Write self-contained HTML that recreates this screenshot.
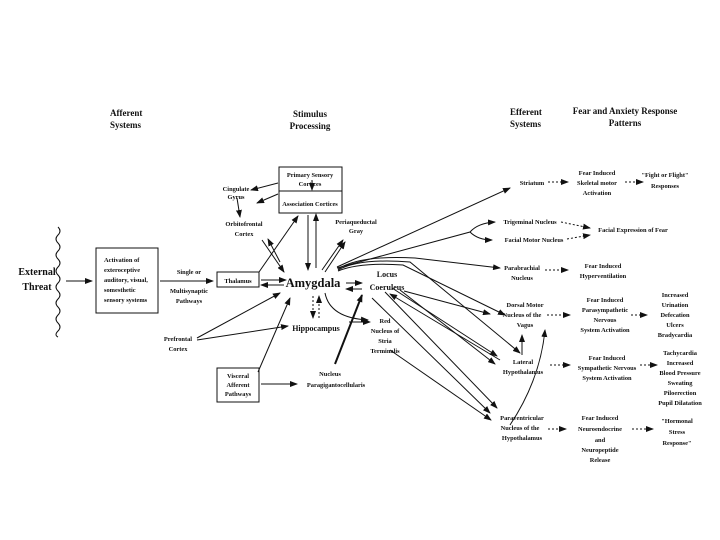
<!DOCTYPE html>
<html><head><style>
html,body{margin:0;padding:0;background:#fff;}
svg{display:block;}
text{font-family:"Liberation Serif",serif;font-weight:bold;fill:#111;}
.s{font-size:6.4px;}
.h{font-size:9px;}
</style></head><body>
<svg width="720" height="540" viewBox="0 0 720 540" xmlns="http://www.w3.org/2000/svg">
<defs>
<marker id="a" markerWidth="8" markerHeight="6" refX="7" refY="3" orient="auto" markerUnits="userSpaceOnUse"><path d="M0,0 L8,3 L0,6 z" fill="#111"/></marker>
</defs>
<g>
<text class="h" x="110" y="116">Afferent</text>
<text class="h" x="110" y="128">Systems</text>
<text class="h" x="310" y="117" text-anchor="middle">Stimulus</text>
<text class="h" x="310" y="129" text-anchor="middle">Processing</text>
<text class="h" x="510" y="115">Efferent</text>
<text class="h" x="510" y="127">Systems</text>
<text class="h" x="625" y="114" text-anchor="middle">Fear and Anxiety Response</text>
<text class="h" x="625" y="126" text-anchor="middle">Patterns</text>
</g>
<g fill="none" stroke="#111" stroke-width="1">
<path d="M58,227 q4,4 0,8 q-4,4 0,8 q4,4 0,8 q-4,4 0,8 q4,4 0,8 q-4,4 0,8 q4,4 0,8 q-4,4 0,8 q4,4 0,8 q-4,4 0,8 q4,4 0,8 q-4,4 0,8 q4,4 0,8 q-4,4 0,6"/>
<rect x="96" y="248" width="62" height="65"/>
<rect x="217" y="272" width="42" height="15"/>
<rect x="279" y="167" width="63" height="46"/>
<line x1="279" y1="191" x2="342" y2="191"/>
<rect x="217" y="368" width="42" height="34"/>
</g>
<g stroke="#111" stroke-width="1" fill="none" marker-end="url(#a)">
<line x1="66" y1="281" x2="92" y2="281"/>
<line x1="160" y1="281" x2="213" y2="281"/>
<line x1="261" y1="280" x2="286" y2="280"/>
<line x1="284" y1="285" x2="261" y2="285"/>
<line x1="259" y1="272" x2="298" y2="216"/>
<line x1="278" y1="194" x2="257" y2="203"/>
<line x1="278" y1="183" x2="251" y2="190"/>
<line x1="237" y1="198" x2="240" y2="217"/>
<line x1="262" y1="240" x2="284" y2="272"/>
<line x1="280" y1="262" x2="268" y2="239"/>
<line x1="308" y1="215" x2="308" y2="270"/>
<line x1="316" y1="268" x2="316" y2="214"/>
<line x1="312" y1="180" x2="312" y2="190"/>
<line x1="322" y1="270" x2="343" y2="240"/>
<line x1="325" y1="272" x2="345" y2="242"/>
<line x1="197" y1="338" x2="280" y2="293"/>
<line x1="197" y1="340" x2="288" y2="326"/>
<line x1="258" y1="372" x2="290" y2="298"/>
<line x1="261" y1="384" x2="297" y2="384"/>
<line x1="349" y1="322" x2="370" y2="322"/>
<line x1="346" y1="283" x2="362" y2="283"/>
<line x1="362" y1="289" x2="346" y2="289"/>
<path d="M325,293 Q330,318 368,320"/>
<path d="M337,267 L510,188"/>
<path d="M337,268 L470,232 Q478,223 495,222"/>
<path d="M470,232 Q478,240 492,240"/>
<path d="M338,269 Q360,255 415,258 L500,268"/>
<path d="M338,270 Q360,258 410,262 L520,353"/>
<path d="M338,271 Q360,262 403,265 L505,315"/>
<path d="M404,291 L490,314"/>
<path d="M372,298 L490,413"/>
<path d="M385,292 L497,408"/>
<path d="M400,290 L495,364"/>
<path d="M500,360 L390,294"/>
<path d="M392,288 L497,356"/>
<path d="M390,350 L491,420"/>
<path d="M522,355 L522,335"/>
<path d="M510,425 Q540,380 545,330"/>
</g>
<g stroke="#111" stroke-width="2" marker-end="url(#a)"><line x1="335" y1="364" x2="362" y2="295"/></g>
<g stroke="#111" stroke-width="1" stroke-dasharray="2,2" fill="none" marker-end="url(#a)">
<line x1="319" y1="318" x2="319" y2="296"/>
<line x1="313" y1="296" x2="313" y2="318"/>
<line x1="548" y1="182" x2="568" y2="182"/>
<line x1="625" y1="182" x2="643" y2="182"/>
<line x1="561" y1="222" x2="590" y2="228"/>
<line x1="567" y1="239" x2="590" y2="235"/>
<line x1="545" y1="270" x2="568" y2="270"/>
<line x1="547" y1="315" x2="570" y2="315"/>
<line x1="631" y1="315" x2="647" y2="315"/>
<line x1="550" y1="365" x2="570" y2="365"/>
<line x1="640" y1="365" x2="657" y2="365"/>
<line x1="548" y1="429" x2="566" y2="429"/>
<line x1="632" y1="429" x2="653" y2="429"/>
</g>
<g class="s">
<text x="37" y="275" text-anchor="middle" style="font-size:10px">External</text>
<text x="37" y="290" text-anchor="middle" style="font-size:10px">Threat</text>
<text class="s" x="104" y="262">Activation of</text>
<text class="s" x="104" y="272">exteroceptive</text>
<text class="s" x="104" y="282">auditory, visual,</text>
<text class="s" x="104" y="292">somesthetic</text>
<text class="s" x="104" y="302">sensory systems</text>
<text class="s" x="189" y="274" text-anchor="middle">Single or</text>
<text class="s" x="189" y="293" text-anchor="middle">Multisynaptic</text>
<text class="s" x="189" y="303" text-anchor="middle">Pathways</text>
<text class="s" x="238" y="283" text-anchor="middle">Thalamus</text>
<text x="313" y="287" text-anchor="middle" style="font-size:12.5px">Amygdala</text>
<text class="s" x="310" y="177" text-anchor="middle">Primary Sensory</text>
<text class="s" x="310" y="186" text-anchor="middle">Cortices</text>
<text class="s" x="310" y="206" text-anchor="middle">Association Cortices</text>
<text class="s" x="236" y="191" text-anchor="middle">Cingulate</text>
<text class="s" x="236" y="199" text-anchor="middle">Gyrus</text>
<text class="s" x="244" y="226" text-anchor="middle">Orbitofrontal</text>
<text class="s" x="244" y="236" text-anchor="middle">Cortex</text>
<text class="s" x="356" y="224" text-anchor="middle">Periaqueductal</text>
<text class="s" x="356" y="233" text-anchor="middle">Gray</text>
<text x="387" y="277" text-anchor="middle" style="font-size:8px">Locus</text>
<text x="387" y="290" text-anchor="middle" style="font-size:8px">Coeruleus</text>
<text x="316" y="331" text-anchor="middle" style="font-size:8px">Hippocampus</text>
<text class="s" x="178" y="341" text-anchor="middle">Prefrontal</text>
<text class="s" x="178" y="351" text-anchor="middle">Cortex</text>
<text class="s" x="238" y="378" text-anchor="middle">Visceral</text>
<text class="s" x="238" y="387" text-anchor="middle">Afferent</text>
<text class="s" x="238" y="396" text-anchor="middle">Pathways</text>
<text class="s" x="330" y="376" text-anchor="middle">Nucleus</text>
<text class="s" x="336" y="387" text-anchor="middle">Paragigantocellularis</text>
<text class="s" x="385" y="323" text-anchor="middle">Red</text>
<text class="s" x="385" y="333" text-anchor="middle">Nucleus of</text>
<text class="s" x="385" y="343" text-anchor="middle">Stria</text>
<text class="s" x="385" y="353" text-anchor="middle">Terminalis</text>
<text class="s" x="532" y="185" text-anchor="middle">Striatum</text>
<text class="s" x="597" y="175" text-anchor="middle">Fear Induced</text>
<text class="s" x="597" y="185" text-anchor="middle">Skeletal motor</text>
<text class="s" x="597" y="195" text-anchor="middle">Activation</text>
<text class="s" x="665" y="177" text-anchor="middle">"Fight or Flight"</text>
<text class="s" x="665" y="188" text-anchor="middle">Responses</text>
<text class="s" x="530" y="224" text-anchor="middle">Trigeminal Nucleus</text>
<text class="s" x="534" y="242" text-anchor="middle">Facial Motor Nucleus</text>
<text class="s" x="633" y="232" text-anchor="middle">Facial Expression of Fear</text>
<text class="s" x="522" y="270" text-anchor="middle">Parabrachial</text>
<text class="s" x="522" y="280" text-anchor="middle">Nucleus</text>
<text class="s" x="603" y="268" text-anchor="middle">Fear Induced</text>
<text class="s" x="603" y="278" text-anchor="middle">Hyperventilation</text>
<text class="s" x="525" y="307" text-anchor="middle">Dorsal Motor</text>
<text class="s" x="522" y="317" text-anchor="middle">Nucleus of the</text>
<text class="s" x="525" y="327" text-anchor="middle">Vagus</text>
<text class="s" x="605" y="302" text-anchor="middle">Fear Induced</text>
<text class="s" x="605" y="312" text-anchor="middle">Parasympathetic</text>
<text class="s" x="605" y="322" text-anchor="middle">Nervous</text>
<text class="s" x="605" y="332" text-anchor="middle">System Activation</text>
<text class="s" x="675" y="297" text-anchor="middle">Increased</text>
<text class="s" x="675" y="307" text-anchor="middle">Urination</text>
<text class="s" x="675" y="317" text-anchor="middle">Defecation</text>
<text class="s" x="675" y="327" text-anchor="middle">Ulcers</text>
<text class="s" x="675" y="337" text-anchor="middle">Bradycardia</text>
<text class="s" x="523" y="364" text-anchor="middle">Lateral</text>
<text class="s" x="523" y="374" text-anchor="middle">Hypothalamus</text>
<text class="s" x="607" y="360" text-anchor="middle">Fear Induced</text>
<text class="s" x="607" y="370" text-anchor="middle">Sympathetic Nervous</text>
<text class="s" x="607" y="380" text-anchor="middle">System Activation</text>
<text class="s" x="680" y="355" text-anchor="middle">Tachycardia</text>
<text class="s" x="680" y="365" text-anchor="middle">Increased</text>
<text class="s" x="680" y="375" text-anchor="middle">Blood Pressure</text>
<text class="s" x="680" y="385" text-anchor="middle">Sweating</text>
<text class="s" x="680" y="395" text-anchor="middle">Piloerection</text>
<text class="s" x="680" y="405" text-anchor="middle">Pupil Dilatation</text>
<text class="s" x="522" y="420" text-anchor="middle">Paraventricular</text>
<text class="s" x="520" y="430" text-anchor="middle">Nucleus of the</text>
<text class="s" x="522" y="440" text-anchor="middle">Hypothalamus</text>
<text class="s" x="600" y="420" text-anchor="middle">Fear Induced</text>
<text class="s" x="600" y="431" text-anchor="middle">Neuroendocrine</text>
<text class="s" x="600" y="442" text-anchor="middle">and</text>
<text class="s" x="600" y="452" text-anchor="middle">Neuropeptide</text>
<text class="s" x="600" y="462" text-anchor="middle">Release</text>
<text class="s" x="677" y="423" text-anchor="middle">"Hormonal</text>
<text class="s" x="677" y="434" text-anchor="middle">Stress</text>
<text class="s" x="677" y="445" text-anchor="middle">Response"</text>
</g>
</svg>
</body></html>
